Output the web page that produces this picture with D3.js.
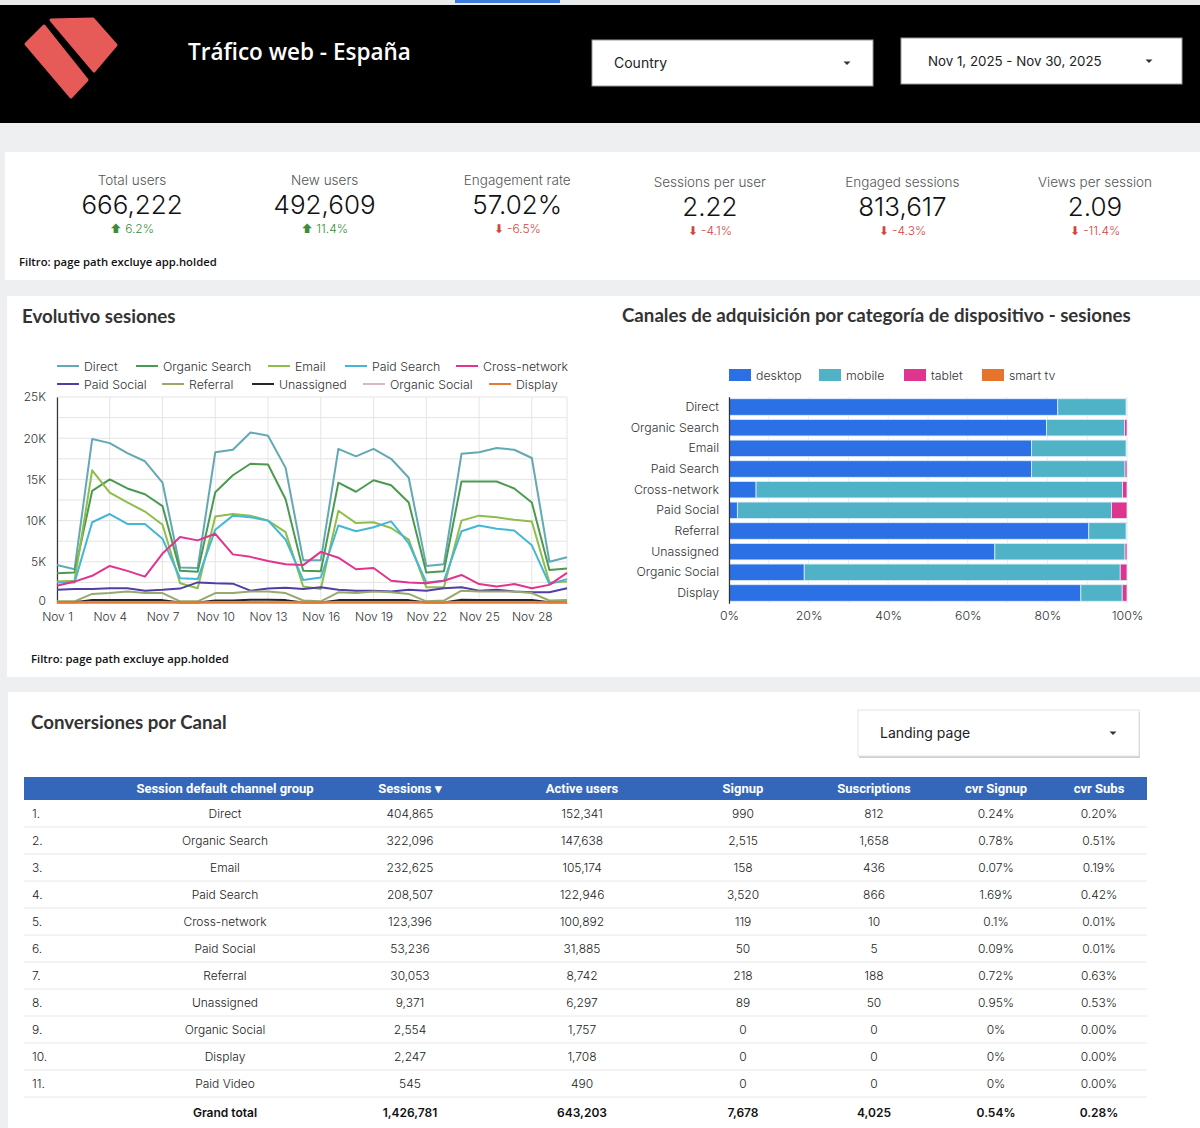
<!DOCTYPE html>
<html><head><meta charset="utf-8">
<script src="https://cdn.jsdelivr.net/npm/d3@7"></script>
<style>
body{margin:0;background:#eeeff1;}
svg{display:block;}
</style></head><body>
<script>
// ---------------- DATA ----------------
const kpiLabels = ["Total users","New users","Engagement rate","Sessions per user","Engaged sessions","Views per session"];
const kpiValues = ["666,222","492,609","57.02%","2.22","813,617","2.09"];
const kpiDeltas = ["6.2%","11.4%","-6.5%","-4.1%","-4.3%","-11.4%"];

const days = [1,2,3,4,5,6,7,8,9,10,11,12,13,14,15,16,17,18,19,20,21,22,23,24,25,26,27,28,29,30];
const dayTicks = [1,4,7,10,13,16,19,22,25,28];
const yTicks = [0,5000,10000,15000,20000,25000];
const channels = ["Direct","Organic Search","Email","Paid Search","Cross-network","Paid Social","Referral","Unassigned","Organic Social","Display"];
const lineColors = ["#62a9b3","#4b9a50","#8fbd4a","#45b7d4","#e2338e","#4f3ea8","#98a86a","#262626","#d7b9c1","#e57a33"];

const direct        = [4600,4100,19900,19400,18200,17200,14600,4300,4250,18300,18600,20700,20300,16400,5200,5200,18700,17800,18700,17500,15200,4500,4700,18100,18300,18800,18600,17600,5000,5550];
const organicSearch = [3600,3700,13600,15000,13900,13200,11750,3900,3800,13450,15500,16900,16800,12600,3900,3850,14600,13500,14900,14300,12200,3700,3850,14750,14750,14750,13900,12200,4000,4200];
const email         = [2600,2700,16100,13400,12200,11100,9500,2400,1800,10500,10800,10600,10000,8600,2000,1700,11200,9700,9800,9100,7700,1900,1900,10000,10600,10400,10100,9900,2500,2600];
const paidSearch    = [2500,2500,9800,10800,9600,9600,7800,3000,2900,8900,10600,10400,10000,7700,2800,3100,9400,8700,9200,9900,7250,2500,2700,8700,9400,9000,8800,7000,2300,2900];
const crossNetwork  = [2100,2600,3300,4500,3900,3200,6000,8000,7600,8400,5900,5600,5100,4700,4600,6200,5500,4100,4250,2700,2500,2400,2700,3400,2300,2000,2300,1800,2200,3650];
const paidSocial    = [1600,1700,1700,1800,1800,1500,1600,1750,2500,2400,2350,1500,1750,1850,1700,1900,1600,1500,1500,1400,1600,1500,1800,1900,1500,1600,1400,1300,1300,1800];
const referral      = [200,200,1100,1200,1400,1200,1200,200,200,1200,1200,1400,1400,1200,300,200,1300,1200,1400,1300,1100,200,300,1500,1400,1400,1400,1200,300,350];
const unassigned    = [100,100,350,350,350,350,350,50,50,300,300,400,400,350,50,50,350,350,350,350,350,50,50,400,350,350,350,350,100,100];
const organicSocial = [60,60,100,110,100,100,90,50,50,100,100,110,100,90,50,50,100,100,100,100,90,50,50,100,100,100,100,90,50,60];
const display       = [60,60,90,90,90,80,80,50,50,90,90,90,80,80,50,50,90,80,80,80,80,50,50,90,90,80,80,80,50,60];
const lineSeries = [direct,organicSearch,email,paidSearch,crossNetwork,paidSocial,referral,unassigned,organicSocial,display];

const devices = ["desktop","mobile","tablet","smart tv"];
const deviceColors = ["#2b70e4","#4fb2c7","#e0358f","#e8742b"];
const desktopPct = [82.6,79.8,76.0,76.0,6.8,2.1,90.4,66.8,18.9,88.4];
const mobilePct  = [17.2,19.6,23.8,23.5,92.1,94.0,9.4,32.7,79.4,10.4];
const tabletPct  = [0.2,0.6,0.2,0.5,1.1,3.9,0.2,0.5,1.7,1.2];
const smartTvPct = [0,0,0,0,0,0,0,0,0,0];
const pctTicks = [0,0.2,0.4,0.6,0.8,1];

const tableHeaders = ["Session default channel group","Sessions ▾","Active users","Signup","Suscriptions","cvr Signup","cvr Subs"];
const tableChannels = ["Direct","Organic Search","Email","Paid Search","Cross-network","Paid Social","Referral","Unassigned","Organic Social","Display","Paid Video"];
const sessions = [404865,322096,232625,208507,123396,53236,30053,9371,2554,2247,545];
const activeUsers = [152341,147638,105174,122946,100892,31885,8742,6297,1757,1708,490];
const signups = [990,2515,158,3520,119,50,218,89,0,0,0];
const subscriptions = [812,1658,436,866,10,5,188,50,0,0,0];
const cvrSignup = ["0.24%","0.78%","0.07%","1.69%","0.1%","0.09%","0.72%","0.95%","0%","0%","0%"];
const cvrSubs = ["0.20%","0.51%","0.19%","0.42%","0.01%","0.01%","0.63%","0.53%","0.00%","0.00%","0.00%"];
const grandTotal = ["Grand total","1,426,781","643,203","7,678","4,025","0.54%","0.28%"];

// ---------------- PAGE ----------------
const W = 1200, H = 1128;
const BODY = "Inter, 'Open Sans', sans-serif";
const TITLE = "Lato, 'Open Sans', sans-serif";
const svg = d3.select("body").append("svg").attr("width", W).attr("height", H);

svg.append("rect").attr("width", W).attr("height", H).attr("fill", "#eeeff1");
// top strip + header
svg.append("rect").attr("x",0).attr("y",0).attr("width",W).attr("height",5).attr("fill","#e9eaec");
svg.append("rect").attr("x",455).attr("y",0).attr("width",105).attr("height",3).attr("fill","#3b7be0");
svg.append("rect").attr("x",0).attr("y",5).attr("width",W).attr("height",118).attr("fill","#000");

// logo
const logo = svg.append("g").attr("fill","#e65a58").attr("stroke","#e65a58").attr("stroke-width",3).attr("stroke-linejoin","round");
logo.append("polygon").attr("points","26,44 44,26 87,80 71,97");
logo.append("polygon").attr("points","51,20 93,19 116,45 94,71");

svg.append("text").attr("x",188).attr("y",60).attr("fill","#fff")
  .style("font-family","'Open Sans', sans-serif").style("font-weight",600).style("font-size","22.5px")
  .text("Tráfico web - España");

function dropdown(x,y,w,h,label,shadow,textX,fs,arrowOff){
  const g = svg.append("g");
  if (shadow) g.append("rect").attr("x",x+1).attr("y",y+2).attr("width",w).attr("height",h).attr("fill","#cfcfcf");
  g.append("rect").attr("x",x).attr("y",y).attr("width",w).attr("height",h).attr("fill","#fff").attr("stroke", shadow? "#e4e4e4":"#9a9a9a").attr("stroke-width",1);
  g.append("text").attr("x",x+textX).attr("y",y+h/2+5).attr("fill","#222").style("font-family",BODY).style("font-size",fs+"px").text(label);
  const ax = x+w-arrowOff, ay = y+h/2;
  g.append("path").attr("d",`M${ax-3.5},${ay-1.5}L${ax+3.5},${ay-1.5}L${ax},${ay+2}Z`).attr("fill","#333");
}
dropdown(592,40,281,46,"Country",false,22,14,26);
dropdown(901,38,281,46,"Nov 1, 2025 - Nov 30, 2025",false,27,13.3,33);

// ---------------- KPI CARD ----------------
svg.append("rect").attr("x",5).attr("y",152).attr("width",W-5).attr("height",128).attr("fill","#fff");
const kpiX = d3.scalePoint().domain(kpiLabels).range([132,1095]);
const kpi = svg.append("g").selectAll("g").data(kpiLabels).join("g")
  .attr("transform",(d,i)=>`translate(${kpiX(d)},${i<3?0:2})`);
kpi.append("text").attr("y",185).attr("text-anchor","middle").attr("fill","#555")
  .style("font-family",BODY).style("font-size","13.5px").style("font-weight",300).text(d=>d);
kpi.append("text").attr("y",214).attr("text-anchor","middle").attr("fill","#111")
  .style("font-family",BODY).style("font-size","26px").style("font-weight",300).text((d,i)=>kpiValues[i]);
kpi.append("text").attr("y",233).attr("text-anchor","middle")
  .attr("fill",(d,i)=>kpiDeltas[i].startsWith("-")?"#d2443e":"#3d8b3d")
  .style("font-family",BODY).style("font-size","12px").style("font-weight",300)
  .text((d,i)=>(kpiDeltas[i].startsWith("-")?"⬇ ":"⬆ ")+kpiDeltas[i]);
svg.append("text").attr("x",19).attr("y",266).attr("fill","#111")
  .style("font-family","'Open Sans', sans-serif").style("font-weight",600).style("font-size","11.3px")
  .text("Filtro:  page path excluye app.holded");

// ---------------- CARD 2 ----------------
svg.append("rect").attr("x",7).attr("y",296).attr("width",W-7).attr("height",381).attr("fill","#fff");
svg.append("text").attr("x",22).attr("y",323).attr("fill","#333")
  .style("font-family",TITLE).style("font-weight",700).style("font-size","18.7px").text("Evolutivo sesiones");
svg.append("text").attr("x",622).attr("y",322).attr("fill","#333")
  .style("font-family",TITLE).style("font-weight",700).style("font-size","18.7px").text("Canales de adquisición por categoría de dispositivo - sesiones");
svg.append("text").attr("x",31).attr("y",663).attr("fill","#111")
  .style("font-family","'Open Sans', sans-serif").style("font-weight",600).style("font-size","11.3px")
  .text("Filtro:  page path excluye app.holded");

// line chart
const x = d3.scaleLinear().domain([1,30]).range([57,567]);
const y = d3.scaleLinear().domain([0,25000]).range([603,397]);
const lc = svg.append("g");
lc.append("g").selectAll("line").data(d3.range(0,25001,2500)).join("line")
  .attr("x1",x(1)).attr("x2",x(30)).attr("y1",d=>y(d)).attr("y2",d=>y(d)).attr("stroke","#e4e4e4");
lc.append("g").selectAll("line").data(dayTicks.concat([30])).join("line")
  .attr("x1",d=>x(d)).attr("x2",d=>x(d)).attr("y1",y(0)).attr("y2",y(25000)).attr("stroke","#e4e4e4");
const yAxis = lc.append("g").attr("transform",`translate(${x(1)},0)`)
  .call(d3.axisLeft(y).tickValues(yTicks).tickSize(0).tickPadding(11).tickFormat(d=>d===0?"0":(d/1000)+"K"));
yAxis.select(".domain").attr("stroke","#333").attr("stroke-width",1.2);
yAxis.selectAll(".tick text").filter(d=>d===0).attr("dy","0.1em");
const xAxis = lc.append("g").attr("transform",`translate(0,${y(0)})`)
  .call(d3.axisBottom(x).tickValues(dayTicks).tickSize(0).tickPadding(9).tickFormat(d=>"Nov "+d));
xAxis.select(".domain").attr("stroke","#bbb");
[yAxis,xAxis].forEach(a=>a.selectAll("text").attr("fill","#333").style("font-family",BODY).style("font-size","12px").style("font-weight",300));
const line = d3.line().x((d,i)=>x(days[i])).y(d=>y(d));
lc.append("g").selectAll("path").data(lineSeries).join("path")
  .attr("d",line).attr("fill","none").attr("stroke",(d,i)=>lineColors[i]).attr("stroke-width",2).attr("stroke-linejoin","round");
// legend
const legRows = [[57,136,268,345,456],[57,162,252,363,489]];
channels.forEach((c,i)=>{
  const r = i<5?0:1, lx = legRows[r][i%5], ly = r===0?366:384;
  lc.append("line").attr("x1",lx).attr("x2",lx+22).attr("y1",ly).attr("y2",ly).attr("stroke",lineColors[i]).attr("stroke-width",2);
  lc.append("text").attr("x",lx+27).attr("y",ly+4.5).attr("fill","#333").style("font-family",BODY).style("font-size","12.3px").style("font-weight",300).text(c);
});

// bar chart
const bx = d3.scaleLinear().domain([0,1]).range([729,1127]);
const by = d3.scaleBand().domain(channels).range([396.7,603.3]).paddingInner(0.2).paddingOuter(0.1);
const barRows = channels.map((c,i)=>({channel:c, desktop:desktopPct[i], mobile:mobilePct[i], tablet:tabletPct[i], "smart tv":smartTvPct[i]}));
const stack = d3.stack().keys(devices).offset(d3.stackOffsetExpand)(barRows);
const bc = svg.append("g");
bc.append("g").selectAll("line").data(d3.range(0,1.0001,0.1)).join("line")
  .attr("x1",d=>bx(d)).attr("x2",d=>bx(d)).attr("y1",397).attr("y2",603).attr("stroke","#ececec");
bc.append("g").selectAll("g").data(stack).join("g").attr("fill",(d,i)=>deviceColors[i])
  .selectAll("rect").data(d=>d).join("rect")
  .attr("x",d=>bx(d[0])).attr("width",d=>Math.max(0,bx(d[1])-bx(d[0])))
  .attr("y",d=>by(d.data.channel)).attr("height",by.bandwidth())
  .attr("stroke","#dfeefa").attr("stroke-width",0.8);
const byAxis = bc.append("g").attr("transform",`translate(${bx(0)},0)`)
  .call(d3.axisLeft(by).tickSize(0).tickPadding(10));
byAxis.select(".domain").attr("stroke","#333").attr("stroke-width",1.2);
const bxAxis = bc.append("g").attr("transform",`translate(0,604)`)
  .call(d3.axisBottom(bx).tickValues(pctTicks).tickSize(0).tickPadding(7).tickFormat(d3.format(".0%")));
bxAxis.select(".domain").remove();
[byAxis,bxAxis].forEach(a=>a.selectAll("text").attr("fill","#333").style("font-family",BODY).style("font-size","12.3px").style("font-weight",300));
const devLegX = [729,819,904,982];
devices.forEach((d,i)=>{
  bc.append("rect").attr("x",devLegX[i]).attr("y",369).attr("width",22).attr("height",12).attr("fill",deviceColors[i]);
  bc.append("text").attr("x",devLegX[i]+27).attr("y",379.5).attr("fill","#333").style("font-family",BODY).style("font-size","12.3px").style("font-weight",300).text(d);
});

// ---------------- CARD 3 (table) ----------------
svg.append("rect").attr("x",8).attr("y",692).attr("width",W-8).attr("height",H-692).attr("fill","#fff");
svg.append("text").attr("x",31).attr("y",729).attr("fill","#333")
  .style("font-family",TITLE).style("font-weight",700).style("font-size","18.7px").text("Conversiones por Canal");
dropdown(858,710,281,46,"Landing page",true,22,14,26);

const colX = [225,410,582,743,874,996,1099];
const tbl = svg.append("g");
tbl.append("rect").attr("x",24).attr("y",777).attr("width",1123).attr("height",23).attr("fill","#3467b9");
tbl.selectAll("text.h").data(tableHeaders).join("text").attr("class","h")
  .attr("x",(d,i)=>colX[i]).attr("y",793).attr("text-anchor","middle").attr("fill","#fff")
  .style("font-family","Roboto, sans-serif").style("font-weight",700).style("font-size","13px").text(d=>d);

const ry = d3.scaleBand().domain(tableChannels).range([800,1097]);
const fmt = d3.format(",");
const rows = tbl.selectAll("g.r").data(tableChannels).join("g").attr("class","r")
  .attr("transform",d=>`translate(0,${ry(d)})`);
rows.append("line").attr("x1",24).attr("x2",1147).attr("y1",ry.bandwidth()).attr("y2",ry.bandwidth()).attr("stroke","#e8e8e8");
rows.append("text").attr("x",32).attr("y",ry.bandwidth()/2+4.5).attr("fill","#222")
  .style("font-family",BODY).style("font-size","12px").style("font-weight",300).text((d,i)=>(i+1)+".");
const cellVals = (d,i)=>[d, fmt(sessions[i]), fmt(activeUsers[i]), fmt(signups[i]), fmt(subscriptions[i]), cvrSignup[i], cvrSubs[i]];
rows.each(function(d,i){
  d3.select(this).selectAll("text.c").data(cellVals(d,i)).join("text").attr("class","c")
    .attr("x",(v,j)=>colX[j]).attr("y",ry.bandwidth()/2+4.5).attr("text-anchor","middle").attr("fill","#222")
    .style("font-family",BODY).style("font-size","12px").style("font-weight",300).text(v=>v);
});
tbl.selectAll("text.g").data(grandTotal).join("text").attr("class","g")
  .attr("x",(d,i)=>colX[i]).attr("y",1117).attr("text-anchor","middle").attr("fill","#111")
  .style("font-family",BODY).style("font-size","12px").style("font-weight",600).text(d=>d);
</script>
</body></html>
